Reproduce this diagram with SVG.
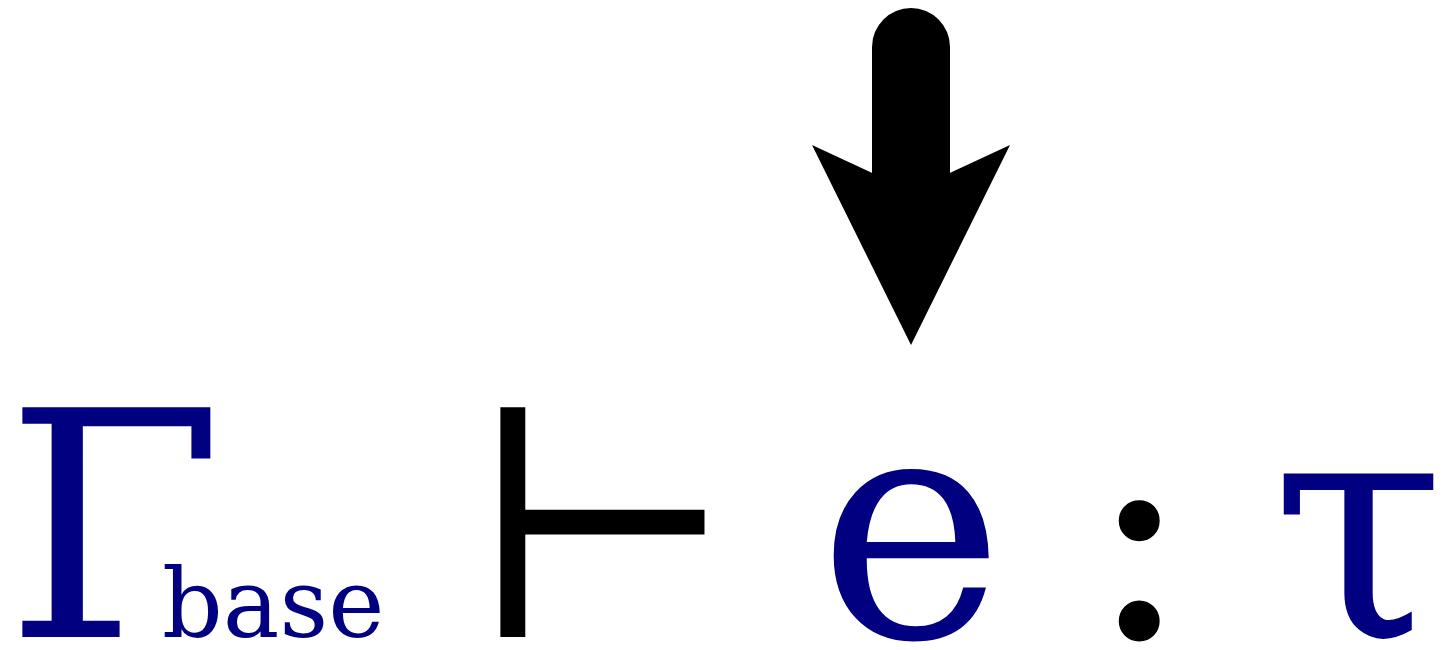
<svg xmlns="http://www.w3.org/2000/svg" width="1443" height="650" viewBox="0 0 1443 650">
<style>
.m{font-family:"DejaVu Serif",serif;font-size:315px}
.blue{fill:#000080}
.blk{fill:#000000}
</style>
<rect width="1443" height="650" fill="#ffffff"/>
<g id="gamma"><text class="m blue" x="5" y="637">Γ</text><text class="blue" x="162" y="637" style="font-family:'DejaVu Serif',serif;font-size:95px">base</text></g>
<g id="turnstile"><text class="m blk" x="467" y="637">⊢</text></g>
<g id="expr"><text class="m blue" x="818" y="637">e</text></g>
<g id="colon"><text class="m blk" x="1086" y="637">:</text></g>
<g id="type"><text class="m blue" x="1271" y="637">τ</text></g>
<g id="connectors">
<line x1="911" y1="47" x2="911" y2="185" stroke="#000" stroke-width="78" stroke-linecap="round"/>
<path d="M812,145 L911,345 L1010,145 L911,191 Z" fill="#000"/>
</g>
</svg>
